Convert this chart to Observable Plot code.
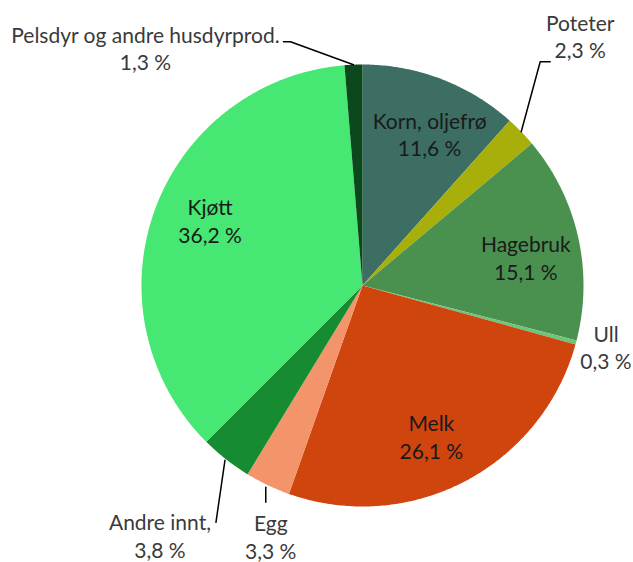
<!DOCTYPE html>
<html><head><meta charset="utf-8">
<script src="https://cdn.jsdelivr.net/npm/d3@7"></script>
<script src="https://cdn.jsdelivr.net/npm/@observablehq/plot@0.6"></script>
<style>body{margin:0;background:#fff}</style>
</head><body><div id="chart"></div>
<script>
// ---- data ----
const categories = ["Korn, oljefrø","Poteter","Hagebruk","Ull","Melk","Egg","Andre innt,","Kjøtt","Pelsdyr og andre husdyrprod."];
const values = [11.6, 2.3, 15.1, 0.3, 26.1, 3.3, 3.8, 36.2, 1.3];
const valueLabels = ["11,6 %","2,3 %","15,1 %","0,3 %","26,1 %","3,3 %","3,8 %","36,2 %","1,3 %"];
const colors = ["#3c6e64","#a8ae0a","#4a9150","#6cc57a","#d0440e","#f3946a","#168b31","#46e772","#0b481c"];
const insideLabels = ["Korn, oljefrø","Hagebruk","Melk","Kjøtt"];

// ---- layout (pixel offsets from slice edge point) ----
const R = 221;
const outsideLayout = {
  "Poteter": {text: [59, -96], leader: [[0, 0], [19, -70], [29, -70]]},
  "Ull": {text: [30, 4], leader: null},
  "Egg": {text: [3, 51], leader: [[-2, 2], [-2, 17]]},
  "Andre innt,": {text: [-66, 76], leader: [[-1, 1], [-10, 63]]},
  "Pelsdyr og andre husdyrprod.": {text: [-208, -17], leader: [[0, 0], [-63, -23], [-70, -23]]}
};

const rows = categories.map((c, i) => ({cat: c, value: values[i], label: valueLabels[i]}));
const arcs = d3.pie().sort(null).value(d => d.value)(rows);

const slicePts = [];
arcs.forEach(a => {
  const n = Math.max(2, Math.ceil((a.endAngle - a.startAngle) / 0.01));
  slicePts.push({cat: a.data.cat, x: 0, y: 0});
  for (let k = 0; k <= n; k++) {
    const t = a.startAngle + (a.endAngle - a.startAngle) * k / n;
    slicePts.push({cat: a.data.cat, x: Math.sin(t), y: Math.cos(t)});
  }
  slicePts.push({cat: a.data.cat, x: 0, y: 0});
});

const nudge = 3 * Math.PI / 180;
const inside = arcs.filter(a => insideLabels.includes(a.data.cat)).map(a => {
  const m = (a.startAngle + a.endAngle) / 2 + nudge;
  return {x: 0.75 * Math.sin(m), y: 0.75 * Math.cos(m), text: a.data.cat + "\n" + a.data.label};
});

const outsideText = [];
const leaders = [];
arcs.filter(a => outsideLayout[a.data.cat]).forEach(a => {
  const m = (a.startAngle + a.endAngle) / 2;
  const ex = Math.sin(m), ey = Math.cos(m);
  const L = outsideLayout[a.data.cat];
  outsideText.push({x: ex + L.text[0] / R, y: ey - L.text[1] / R, text: a.data.cat + "\n" + a.data.label});
  if (L.leader) L.leader.forEach(p => leaders.push({cat: a.data.cat, x: ex + p[0] / R, y: ey - p[1] / R}));
});

const chart = Plot.plot({
  width: 633, height: 562,
  marginLeft: 141, marginRight: 50, marginTop: 64, marginBottom: 56,
  x: {domain: [-1, 1], axis: null},
  y: {domain: [-1, 1], axis: null},
  color: {domain: categories, range: colors},
  style: {fontFamily: "Lato, 'Open Sans', sans-serif", fontSize: "21px", background: "#fff"},
  marks: [
    Plot.line(slicePts, {x: "x", y: "y", z: "cat", fill: "cat", stroke: "none", curve: "linear"}),
    Plot.line(leaders, {x: "x", y: "y", z: "cat", stroke: "#000", strokeWidth: 1.5}),
    Plot.text(inside, {x: "x", y: "y", text: "text", fill: "#1a1a1a", fontSize: 21, lineHeight: 1.3}),
    Plot.text(outsideText, {x: "x", y: "y", text: "text", fill: "#3a3a3a", fontSize: 21, lineHeight: 1.3})
  ]
});
document.getElementById("chart").appendChild(chart);
</script>
</body></html>
